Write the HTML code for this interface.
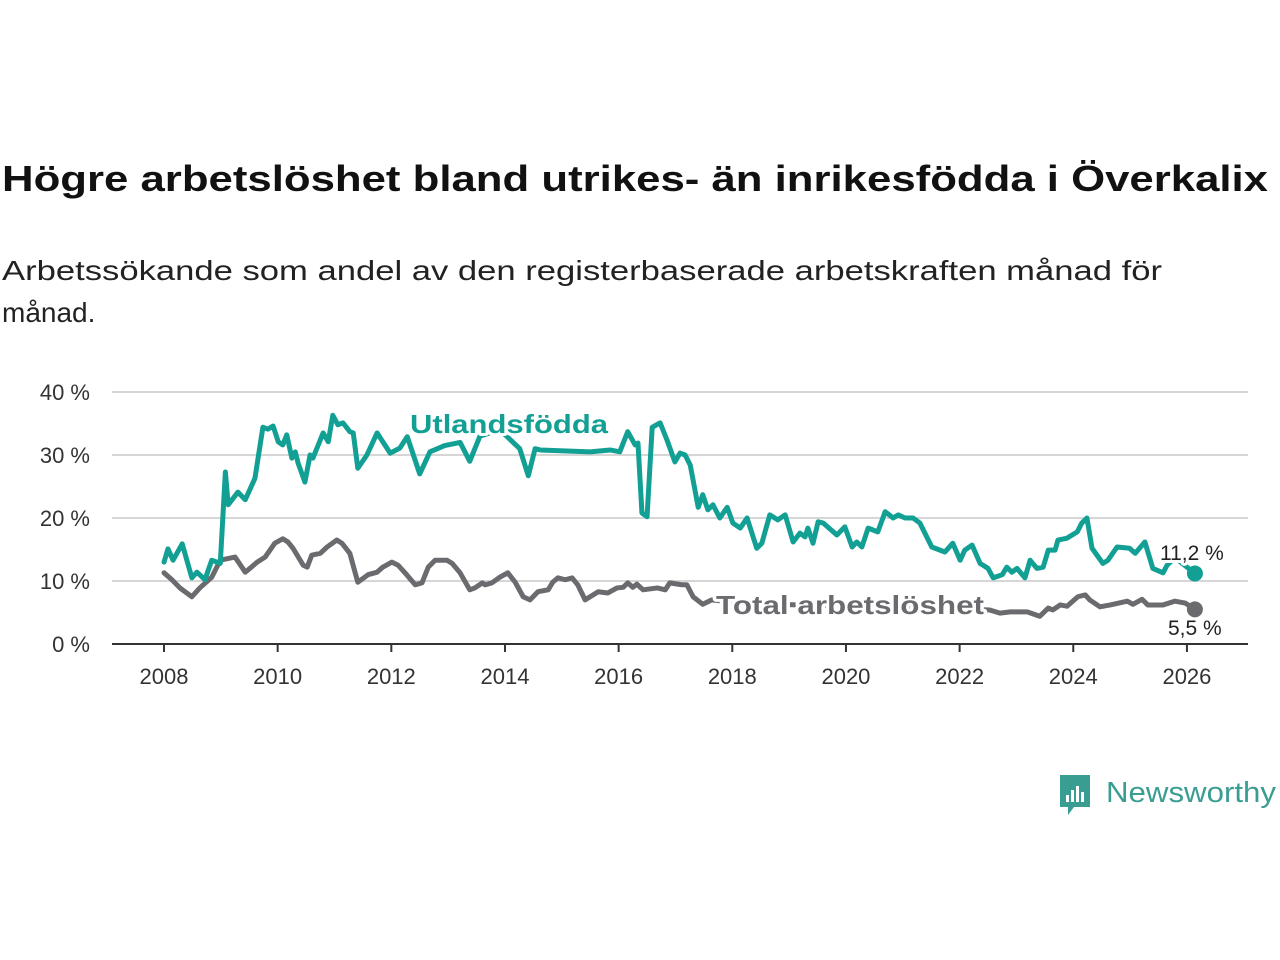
<!DOCTYPE html>
<html><head><meta charset="utf-8"><style>
body{margin:0;background:#fff;width:1280px;height:960px;overflow:hidden;font-family:"Liberation Sans",sans-serif}
</style></head><body>
<svg width="1280" height="960" style="position:absolute;left:0;top:0">
<text x="2" y="191" font-size="36" font-weight="bold" fill="#111" textLength="1266" lengthAdjust="spacingAndGlyphs">Högre arbetslöshet bland utrikes- än inrikesfödda i Överkalix</text>
<text x="2" y="280" font-size="28" fill="#222" textLength="1160" lengthAdjust="spacingAndGlyphs">Arbetssökande som andel av den registerbaserade arbetskraften månad för</text>
<text x="2" y="322" font-size="28" fill="#222">månad.</text>
<g id="grid"></g>
<g id="series"></g>
<g>
<path d="M1060 775 h30 v32 h-16 l-6 8 v-8 h-8 z" fill="#3a9d92"/>
<rect x="1066" y="795" width="3" height="7" fill="#fff"/><rect x="1071" y="790" width="3" height="12" fill="#fff"/><rect x="1076" y="786" width="3" height="16" fill="#fff"/><rect x="1081" y="792" width="3" height="10" fill="#fff"/>
<text x="1106" y="802" font-size="29" fill="#3a9d92" textLength="170" lengthAdjust="spacingAndGlyphs">Newsworthy</text>
</g>
</svg>
<script>
const yTicks=[0,10,20,30,40];
const xTicks=[2008,2010,2012,2014,2016,2018,2020,2022,2024,2026];
const utlDates=[2008.0,2008.07,2008.16,2008.32,2008.49,2008.58,2008.72,2008.84,2008.99,2009.08,2009.13,2009.30,2009.43,2009.60,2009.74,2009.83,2009.92,2010.01,2010.09,2010.16,2010.25,2010.31,2010.36,2010.48,2010.57,2010.62,2010.80,2010.89,2010.97,2011.06,2011.15,2011.27,2011.33,2011.41,2011.57,2011.75,2011.85,2011.98,2012.15,2012.28,2012.50,2012.68,2012.94,2013.21,2013.38,2013.56,2013.91,2014.26,2014.41,2014.53,2014.62,2015.50,2015.85,2016.02,2016.16,2016.29,2016.34,2016.41,2016.50,2016.59,2016.73,2016.85,2016.99,2017.08,2017.17,2017.26,2017.40,2017.48,2017.57,2017.66,2017.78,2017.91,2018.01,2018.14,2018.26,2018.43,2018.52,2018.66,2018.80,2018.93,2019.07,2019.19,2019.28,2019.33,2019.42,2019.51,2019.60,2019.84,2019.98,2020.11,2020.19,2020.28,2020.39,2020.56,2020.69,2020.83,2020.92,2021.04,2021.18,2021.30,2021.51,2021.74,2021.88,2022.01,2022.09,2022.22,2022.36,2022.50,2022.59,2022.75,2022.83,2022.92,2023.01,2023.15,2023.24,2023.36,2023.47,2023.56,2023.68,2023.73,2023.89,2024.07,2024.15,2024.24,2024.33,2024.52,2024.61,2024.77,2024.99,2025.09,2025.26,2025.40,2025.58,2025.65,2025.79,2026.14];
const utlValues=[13.0,15.1,13.3,15.9,10.5,11.4,10.2,13.3,12.8,27.3,22.1,24.1,22.9,26.3,34.4,34.1,34.6,32.1,31.6,33.2,29.5,30.5,28.7,25.7,30.0,29.5,33.5,32.1,36.3,34.8,35.1,33.7,33.5,27.9,30.0,33.5,32.1,30.3,31.1,32.9,27.0,30.5,31.5,32.0,29.0,33.0,34.0,31.0,26.7,31.0,30.8,30.5,30.8,30.5,33.7,31.6,31.9,20.8,20.2,34.4,35.1,32.4,28.9,30.3,30.0,28.4,21.7,23.7,21.3,22.1,20.0,21.7,19.2,18.4,20.0,15.2,16.0,20.5,19.7,20.5,16.2,17.6,17.0,18.4,16.0,19.4,19.2,17.3,18.6,15.4,16.2,15.4,18.4,17.8,21.0,20.0,20.5,20.0,20.0,19.2,15.4,14.6,16.0,13.3,14.9,15.7,12.8,12.0,10.5,11.0,12.2,11.4,12.0,10.5,13.3,12.0,12.2,14.9,14.9,16.5,16.8,17.8,19.2,20.0,15.2,12.8,13.3,15.4,15.2,14.4,16.2,12.0,11.3,12.5,13.7,11.2];
const totDates=[2008.0,2008.14,2008.28,2008.49,2008.63,2008.84,2008.99,2009.25,2009.43,2009.51,2009.64,2009.78,2009.95,2010.09,2010.18,2010.27,2010.45,2010.52,2010.60,2010.75,2010.87,2011.04,2011.13,2011.27,2011.41,2011.59,2011.75,2011.85,2012.01,2012.12,2012.24,2012.42,2012.54,2012.65,2012.77,2012.98,2013.07,2013.21,2013.38,2013.47,2013.60,2013.65,2013.77,2013.91,2014.05,2014.18,2014.32,2014.44,2014.58,2014.76,2014.84,2014.93,2015.06,2015.18,2015.28,2015.41,2015.64,2015.81,2015.97,2016.08,2016.16,2016.25,2016.32,2016.43,2016.68,2016.82,2016.90,2017.11,2017.20,2017.31,2017.48,2017.64,2018.14,2019.19,2020.25,2021.30,2022.01,2022.53,2022.71,2022.89,2023.19,2023.41,2023.56,2023.64,2023.77,2023.89,2024.08,2024.21,2024.29,2024.47,2024.65,2024.95,2025.05,2025.21,2025.31,2025.58,2025.79,2025.97,2026.14];
const totValues=[11.3,10.2,8.9,7.5,8.9,10.6,13.3,13.8,11.4,12.0,13.0,13.8,16.0,16.7,16.2,15.2,12.5,12.2,14.1,14.4,15.4,16.5,16.0,14.4,9.8,11.0,11.4,12.2,13.0,12.5,11.3,9.4,9.7,12.2,13.3,13.3,12.8,11.3,8.6,8.9,9.7,9.4,9.7,10.6,11.3,9.8,7.5,7.0,8.3,8.6,9.8,10.5,10.2,10.5,9.4,7.0,8.3,8.1,8.9,9.0,9.7,9.0,9.5,8.6,8.9,8.6,9.7,9.4,9.4,7.5,6.3,7.0,6.5,6.2,6.0,5.8,5.6,5.4,4.9,5.1,5.1,4.4,5.7,5.4,6.2,6.0,7.5,7.8,7.0,5.9,6.2,6.8,6.3,7.1,6.2,6.2,6.8,6.5,5.5];
const X=t=>164+(t-2008)*56.83;
const Y=v=>644-v*6.3;
const NS='http://www.w3.org/2000/svg';
function mk(tag,attrs,parent,txt){const e=document.createElementNS(NS,tag);for(const k in attrs)e.setAttribute(k,attrs[k]);if(txt!==undefined)e.textContent=txt;parent.appendChild(e);return e;}
const grid=document.getElementById('grid');
yTicks.forEach(v=>{
  if(v>0){const l=mk('line',{x1:112,x2:1248,y1:Y(v),y2:Y(v),stroke:'#d6d6d6','stroke-width':2},grid);
  
  }
  const t=mk('text',{x:90,y:Y(v)+8,'text-anchor':'end','font-size':22,fill:'#333'},grid,v+' %');
  
  
});
const ax=mk('line',{x1:112,x2:1248,y1:644,y2:644,stroke:'#333','stroke-width':2},grid);


xTicks.forEach(yr=>{
  const tk=mk('line',{x1:X(yr),x2:X(yr),y1:644,y2:652,stroke:'#333','stroke-width':2},grid);
  
  
  const t=mk('text',{x:X(yr),y:684,'text-anchor':'middle','font-size':22,fill:'#333'},grid,String(yr));
  
  
});
const s=document.getElementById('series');
function line(d,v,col,name){
  const p=mk('polyline',{points:d.map((t,i)=>X(t)+','+Y(v[i])).join(' '),fill:'none',stroke:col,'stroke-width':5,'stroke-linejoin':'round','stroke-linecap':'round'},s);
  
  
  const n=d.length-1;
  const c=mk('circle',{cx:X(d[n]),cy:Y(v[n]),r:8,fill:col},s);
  
  
}
line(totDates,totValues,'#6b6a6e','total-line');
line(utlDates,utlValues,'#13a094','utlandsfodda-line');
function lab(x,y,txt,col,size,bold,name,len){
  const a={x:x,y:y,'font-size':size,fill:col,stroke:'#fff','stroke-width':6,'paint-order':'stroke','stroke-linejoin':'round'};
  if(bold)a['font-weight']='bold';
  if(len){a.textLength=len;a.lengthAdjust='spacingAndGlyphs';}
  const t=mk('text',a,s,txt);
  
  
}
lab(410,433,'Utlandsfödda','#13a094',26,true,'utlandsfodda-label',198);
lab(716,614,'Total arbetslöshet','#6b6a6e',26,true,'total-label',268);
const nu=utlValues.length-1, nt=totValues.length-1;
lab(1160,560,utlValues[nu].toFixed(1).replace('.',',')+' %','#222',21,false,'utlandsfodda-end-label');
lab(1168,635,totValues[nt].toFixed(1).replace('.',',')+' %','#222',21,false,'total-end-label');
</script>
</body></html>
